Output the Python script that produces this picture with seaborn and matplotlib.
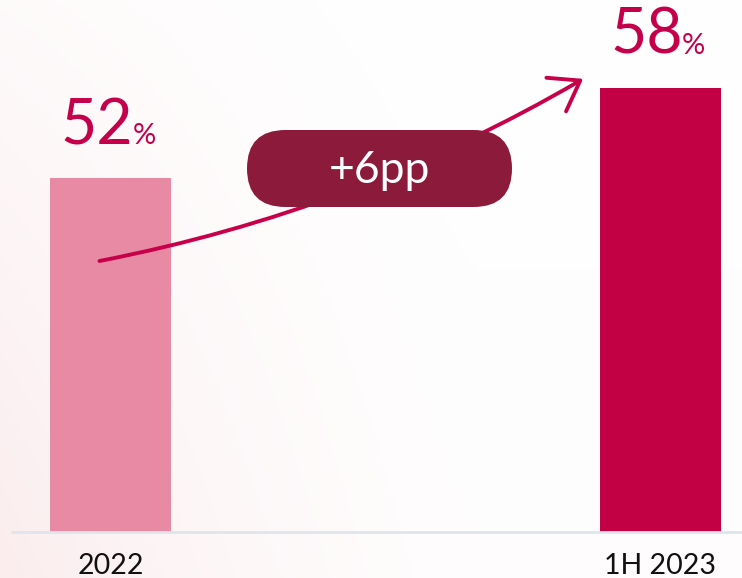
import numpy as np
import matplotlib.pyplot as plt
import seaborn as sns
from matplotlib.patches import FancyArrowPatch, FancyBboxPatch

periods = ["2022", "1H 2023"]
share = [52, 58]
bar_colors = ["#E98AA5", "#C20044"]
change_label = "+6pp"

sns.set_style("white")
plt.rcParams["font.family"] = ["Lato", "DejaVu Sans"]

fig = plt.figure(figsize=(7.42, 5.78), dpi=100)

# soft pink wash in the background, stronger bottom-left
bg = fig.add_axes([0, 0, 1, 1], zorder=-1)
gx, gy = np.meshgrid(np.linspace(0, 1, 300), np.linspace(0, 1, 300))
w = 0.45 * np.clip(1 - gx / 0.65, 0, 1) ** 1.5 * (0.3 + 0.7 * gy) + 0.06 * gy
pink = np.array([0.97, 0.86, 0.87])
img = 1 - w[..., None] * (1 - pink)
bg.imshow(img, extent=[0, 1, 0, 1], aspect="auto", origin="upper")
bg.axis("off")

ax = fig.add_axes([0, 46 / 578, 1, 532 / 578])
ax.patch.set_alpha(0)
sns.barplot(x=periods, y=share, hue=periods, palette=bar_colors, width=0.22,
            saturation=1, legend=False, linewidth=0, edgecolor="none", ax=ax)
ax.set_xlim(-0.201, 1.149)
ax.set_ylim(28.5, 28.5 + 532 / 15 - 0.13)
sns.despine(ax=ax, left=True, bottom=True)
ax.set_yticks([])
ax.set_xlabel("")
ax.set_ylabel("")
ax.tick_params(axis="x", length=0, pad=15, labelsize=20.5, labelcolor="#111111")
ax.axhline(28.5, xmin=12 / 742, color="#DFE5EA", lw=2, clip_on=False, zorder=3)

for i, v in enumerate(share):
    ax.annotate(f"{v}", (i, v), xytext=(23, 34), textcoords="offset pixels",
                ha="right", va="baseline", fontsize=45, color="#C5004B")
    ax.annotate("%", (i, v), xytext=(22, 34), textcoords="offset pixels",
                ha="left", va="baseline", fontsize=21, color="#C5004B")

# curved arrow from 2022 towards 1H 2023
arrow = FancyArrowPatch((-0.02, 46.5), (0.86, 58.6),
                        connectionstyle="arc3,rad=0.085",
                        arrowstyle="->,head_length=20,head_width=14",
                        mutation_scale=1, lw=2.8, color="#C8004A",
                        shrinkA=0, shrinkB=0, zorder=4, clip_on=False)
ax.add_patch(arrow)

# change pill
pill = FancyBboxPatch((2.47, 3.71), 2.65, 0.77,
                      boxstyle="round,pad=0,rounding_size=0.385",
                      transform=fig.dpi_scale_trans, fc="#8C1A3B", ec="none",
                      zorder=5)
fig.add_artist(pill)
fig.text(3.795, 3.95, change_label, transform=fig.dpi_scale_trans,
         ha="center", va="baseline", fontsize=32, color="white", zorder=6)

fig.savefig("out.png", dpi=100)
